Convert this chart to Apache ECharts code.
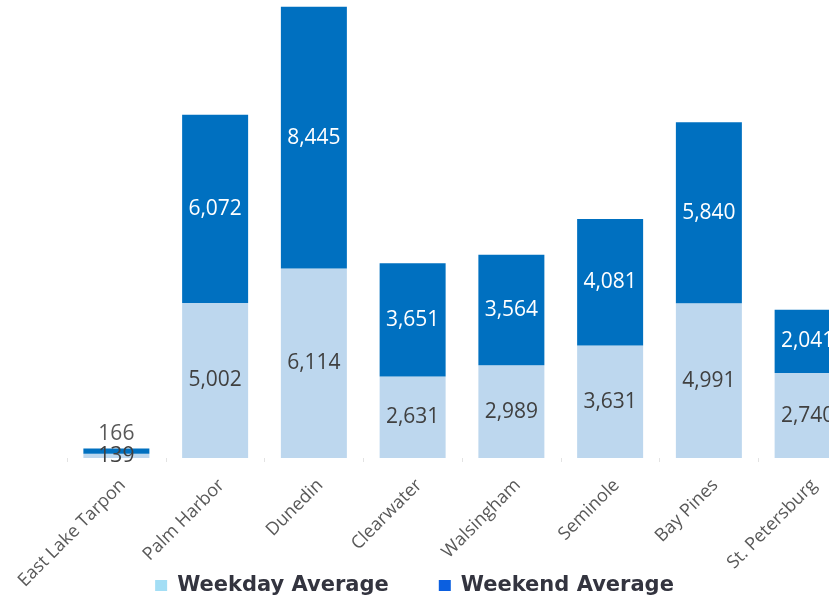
<!DOCTYPE html>
<html>
<head>
<meta charset="utf-8">
<script src="https://cdn.jsdelivr.net/npm/echarts@6/dist/echarts.min.js"></script>
<style>html,body{margin:0;padding:0;background:#fff;}#c{width:829px;height:596px;}</style>
</head>
<body>
<div id="c"></div>
<script>
const categories = ["East Lake Tarpon","Palm Harbor","Dunedin","Clearwater","Walsingham","Seminole","Bay Pines","St. Petersburg"];
const weekdayAverage = [139, 5002, 6114, 2631, 2989, 3631, 4991, 2740];
const weekendAverage = [166, 6072, 8445, 3651, 3564, 4081, 5840, 2041];
const seriesNames = ["Weekday Average", "Weekend Average"];

const chart = echarts.init(document.getElementById('c'));
const fmt = p => p.value.toLocaleString('en-US');
const weekendData = weekendAverage.map((v, i) => i === 0 ? {
  value: v,
  label: { position: 'top', color: '#595959', distance: 4 }
} : v);

chart.setOption({
  animation: false,
  grid: { left: 67, width: 790, top: 0, bottom: 138, containLabel: false, outerBoundsMode: 'none' },
  legend: {
    bottom: -5,
    left: 'center',
    itemGap: 50,
    itemWidth: 12,
    itemHeight: 11,
    icon: 'rect',
    textStyle: { fontFamily: 'DejaVu Sans', fontSize: 21, fontWeight: 'bold', color: '#33343f', padding: [0, 0, 0, 5] },
    data: [
      { name: seriesNames[0], itemStyle: { color: '#a3def5' } },
      { name: seriesNames[1], itemStyle: { color: '#0b5fe0' } }
    ]
  },
  xAxis: {
    type: 'category',
    data: categories,
    axisLine: { show: false },
    axisTick: { show: true, length: 4, lineStyle: { color: '#e3e3e3' } },
    axisLabel: { rotate: 45, margin: 18, verticalAlign: 'top', color: '#595959', fontFamily: 'Open Sans', fontSize: 18, interval: 0 }
  },
  yAxis: { type: 'value', min: 0, max: 14775, show: false, splitLine: { show: false } },
  series: [
    {
      name: seriesNames[0], type: 'bar', stack: 'total', barWidth: 66,
      data: weekdayAverage,
      itemStyle: { color: '#bdd7ee' },
      label: { show: true, position: 'inside', color: '#404040', fontFamily: 'Open Sans', fontSize: 21, formatter: fmt }
    },
    {
      name: seriesNames[1], type: 'bar', stack: 'total', barWidth: 66,
      data: weekendData,
      itemStyle: { color: '#0070c0' },
      label: { show: true, position: 'inside', color: '#ffffff', fontFamily: 'Open Sans', fontSize: 21, formatter: fmt }
    }
  ]
});
</script>
</body>
</html>
